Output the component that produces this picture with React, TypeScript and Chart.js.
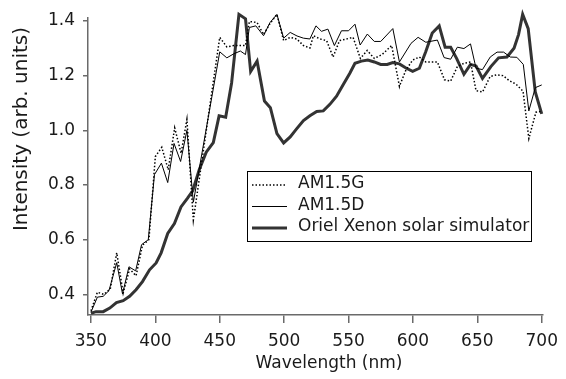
import { useEffect, useRef } from "react";
import { Chart, registerables } from "chart.js";

Chart.register(...registerables);

// ---- data (wavelength in nm, intensity in arb. units) ----
const AM15G_WL = [350, 355, 360, 365, 370, 375, 380, 385, 390, 395, 400, 405, 410, 415, 420, 424.5, 429.5, 450, 455.5, 461, 466, 470, 473, 479, 484, 489, 494.4, 499.6, 504.7, 509.8, 515, 520, 522.7, 527.9, 533, 538, 543, 548.4, 553.5, 559.2, 564.5, 570, 576, 583.5, 589.5, 594.6, 599.8, 605, 610, 619, 624.5, 629.3, 634.5, 639.6, 644.7, 649, 654, 660, 665, 670, 675, 680, 685.5, 690, 695.5, 700];
const AM15G = [0.34, 0.408, 0.4, 0.42, 0.552, 0.405, 0.493, 0.468, 0.58, 0.6, 0.904, 0.938, 0.856, 1.009, 0.916, 1.04, 0.672, 1.34, 1.305, 1.31, 1.31, 1.31, 1.398, 1.394, 1.35, 1.39, 1.424, 1.328, 1.34, 1.334, 1.31, 1.301, 1.346, 1.334, 1.328, 1.268, 1.328, 1.334, 1.34, 1.263, 1.292, 1.263, 1.277, 1.31, 1.161, 1.221, 1.257, 1.268, 1.25, 1.25, 1.185, 1.18, 1.233, 1.245, 1.25, 1.145, 1.14, 1.197, 1.203, 1.2, 1.181, 1.169, 1.143, 0.97, 1.066, 1.07];

const AM15D_WL = [350, 355, 359.5, 364, 370, 374.5, 379.5, 384.7, 389.3, 394.5, 399.3, 404.7, 409.6, 414.5, 419.6, 424.5, 429.5, 450, 455.5, 461, 466, 470, 473, 478, 484, 489, 494.4, 499.6, 504.7, 510, 515, 520, 524.7, 529, 534, 539, 544.5, 550, 555, 559, 564.6, 570, 575, 584.4, 589.5, 598.5, 604, 610, 619, 624.2, 629.3, 634.5, 639.6, 644.7, 649, 654, 660, 665.3, 670.4, 675.6, 680.7, 685.7, 690, 695, 700];
const AM15D = [0.335, 0.39, 0.393, 0.414, 0.516, 0.402, 0.501, 0.486, 0.582, 0.6, 0.838, 0.88, 0.809, 0.952, 0.886, 1.0, 0.737, 1.287, 1.265, 1.28, 1.29, 1.277, 1.376, 1.382, 1.346, 1.394, 1.424, 1.337, 1.358, 1.345, 1.337, 1.334, 1.382, 1.362, 1.37, 1.31, 1.364, 1.364, 1.388, 1.312, 1.352, 1.325, 1.325, 1.372, 1.25, 1.318, 1.34, 1.322, 1.33, 1.266, 1.26, 1.304, 1.299, 1.316, 1.227, 1.222, 1.268, 1.286, 1.286, 1.268, 1.267, 1.241, 1.071, 1.156, 1.166];

const ORIEL_WL = [350, 354, 359.5, 364.6, 369.8, 375, 380, 385, 390, 395.5, 400.6, 404.5, 409.6, 414.8, 419.9, 425, 429, 434, 439.5, 445, 449.5, 454.6, 459.2, 464.9, 470, 474, 479, 484.7, 489.3, 494.4, 499.6, 504.7, 509.8, 515, 520, 525.3, 530.4, 535.5, 540.7, 545.8, 551, 555, 560, 565, 570, 575, 580, 584.4, 589.5, 594.6, 599.8, 605, 610, 615, 620.4, 625, 629.3, 634, 639.6, 644.7, 649, 654, 660.5, 666.5, 673, 678.5, 682, 685.2, 689.5, 695, 700];
const ORIEL = [0.331, 0.337, 0.337, 0.35, 0.37, 0.377, 0.393, 0.417, 0.447, 0.49, 0.515, 0.552, 0.623, 0.659, 0.72, 0.752, 0.779, 0.855, 0.92, 0.955, 1.053, 1.048, 1.173, 1.424, 1.408, 1.215, 1.253, 1.107, 1.083, 0.988, 0.954, 0.976, 1.006, 1.036, 1.053, 1.069, 1.071, 1.095, 1.125, 1.167, 1.209, 1.245, 1.253, 1.257, 1.25, 1.241, 1.241, 1.248, 1.243, 1.228, 1.216, 1.227, 1.288, 1.356, 1.382, 1.304, 1.304, 1.262, 1.205, 1.241, 1.235, 1.19, 1.233, 1.265, 1.268, 1.3, 1.35, 1.424, 1.372, 1.14, 1.06];

const SERIES_LABELS = ["AM1.5G", "AM1.5D", "Oriel Xenon solar simulator"];
const X_TICKS = [350, 400, 450, 500, 550, 600, 650, 700];
const Y_TICKS = [0.4, 0.6, 0.8, 1.0, 1.2, 1.4];
const X_TITLE = "Wavelength (nm)";
const Y_TITLE = "Intensity (arb. units)";

const FONT = '"DejaVu Sans", sans-serif';
const TEXT = "#1a1a1a";
const AXIS = "#6a6a6a";

const pts = (xs: number[], ys: number[]) => xs.map((x, i) => ({ x, y: ys[i] }));

export default function App() {
  const ref = useRef<HTMLCanvasElement>(null);

  useEffect(() => {
    if (!ref.current) return;

    const overlay = {
      id: "overlay",
      afterDraw(chart: any) {
        const ctx = chart.ctx as CanvasRenderingContext2D;
        ctx.save();
        // legend box
        const L = 247.5, T = 171.5, R = 531.5, B = 241.5;
        ctx.fillStyle = "#fff";
        ctx.fillRect(L, T, R - L, B - T);
        ctx.strokeStyle = "#000";
        ctx.lineWidth = 1;
        ctx.setLineDash([]);
        ctx.strokeRect(L, T, R - L, B - T);
        const rows = [185, 206.5, 228];
        chart.data.datasets.forEach((ds: any, i: number) => {
          const y = rows[i];
          ctx.beginPath();
          ctx.strokeStyle = ds.borderColor;
          ctx.lineWidth = ds.borderWidth;
          ctx.setLineDash(ds.borderDash || []);
          ctx.moveTo(252, y);
          ctx.lineTo(287, y);
          ctx.stroke();
          ctx.setLineDash([]);
          ctx.fillStyle = TEXT;
          ctx.font = `17px ${FONT}`;
          ctx.textAlign = "left";
          ctx.textBaseline = "middle";
          ctx.fillText(ds.label, 298, y - 1);
        });
        // axis titles
        ctx.fillStyle = TEXT;
        ctx.textAlign = "center";
        ctx.textBaseline = "middle";
        ctx.font = `17px ${FONT}`;
        ctx.fillText(X_TITLE, 329, 364);
        ctx.translate(22, 129);
        ctx.rotate(-Math.PI / 2);
        ctx.font = `20px ${FONT}`;
        ctx.fillText(Y_TITLE, 0, 0);
        ctx.restore();
      },
    };

    const chart = new Chart(ref.current, {
      type: "line",
      data: {
        datasets: [
          {
            label: SERIES_LABELS[0],
            data: pts(AM15G_WL, AM15G),
            borderColor: "#000",
            borderWidth: 1.5,
            borderDash: [1.5, 2],
            pointRadius: 0,
            fill: false,
            tension: 0,
            clip: false,
          },
          {
            label: SERIES_LABELS[1],
            data: pts(AM15D_WL, AM15D),
            borderColor: "#000",
            borderWidth: 1,
            pointRadius: 0,
            fill: false,
            tension: 0,
            clip: false,
          },
          {
            label: SERIES_LABELS[2],
            data: pts(ORIEL_WL, ORIEL),
            borderColor: "#333",
            borderWidth: 3,
            pointRadius: 0,
            fill: false,
            tension: 0,
            clip: false,
          },
        ] as any,
      },
      options: {
        responsive: false,
        animation: false,
        layout: { padding: { top: 13, right: 19.5, left: 0, bottom: 0 } },
        plugins: {
          legend: { display: false },
          tooltip: { enabled: false },
          title: { display: false },
        },
        scales: {
          x: {
            type: "linear",
            position: "bottom",
            min: 347.7,
            max: 701,
            afterFit: (s: any) => {
              s.height = 64;
            },
            afterBuildTicks: (s: any) => {
              s.ticks = X_TICKS.map((v) => ({ value: v }));
            },
            ticks: {
              font: { family: FONT, size: 17 },
              color: TEXT,
              padding: 8,
              maxRotation: 0,
              autoSkip: false,
              callback: (v: any) => String(v),
            },
            grid: {
              display: true,
              drawOnChartArea: false,
              drawTicks: true,
              tickLength: 8,
              color: AXIS,
              lineWidth: 1.5,
            },
            border: { display: true, color: AXIS, width: 1.5 },
          },
          y: {
            type: "linear",
            position: "left",
            min: 0.3247,
            max: 1.41,
            afterFit: (s: any) => {
              s.width = 88;
            },
            afterBuildTicks: (s: any) => {
              s.ticks = Y_TICKS.map((v) => ({ value: v }));
            },
            ticks: {
              font: { family: FONT, size: 17 },
              color: TEXT,
              padding: 8,
              autoSkip: false,
              callback: (v: any) => Number(v).toFixed(1),
            },
            grid: {
              display: true,
              drawOnChartArea: false,
              drawTicks: true,
              tickLength: 5,
              color: AXIS,
              lineWidth: 1.5,
            },
            border: { display: true, color: AXIS, width: 1.5 },
          },
        },
      } as any,
      plugins: [overlay],
    });

    return () => chart.destroy();
  }, []);

  return (
    <div style={{ position: "fixed", left: 0, top: 0, width: 566, height: 379, background: "#fff" }}>
      <canvas ref={ref} width={566} height={379} style={{ display: "block" }} />
    </div>
  );
}
